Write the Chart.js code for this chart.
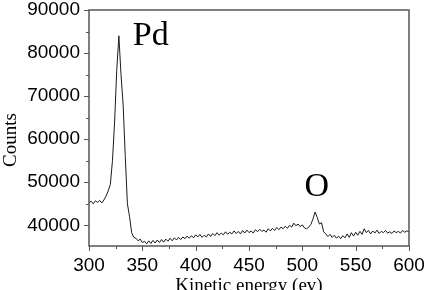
<!DOCTYPE html>
<html>
<head>
<meta charset="utf-8">
<title>AES spectrum</title>
<script src="https://cdn.jsdelivr.net/npm/chart.js@4.4.1/dist/chart.umd.min.js"></script>
<style>
  html, body { margin: 0; padding: 0; background: #fff; }
</style>
</head>
<body>
<canvas id="aes" width="424" height="290"></canvas>
<script>
// kinetic energy (eV) and counts
const energy = [
  300, 302, 304, 306, 308, 310, 312, 314, 316, 318,
  320, 322, 324, 326, 328, 330, 332, 334, 336, 338,
  340, 342, 344, 346, 348, 350, 352, 354, 356, 358,
  360, 362, 364, 366, 368, 370, 372, 374, 376, 378,
  380, 382, 384, 386, 388, 390, 392, 394, 396, 398,
  400, 402, 404, 406, 408, 410, 412, 414, 416, 418,
  420, 422, 424, 426, 428, 430, 432, 434, 436, 438,
  440, 442, 444, 446, 448, 450, 452, 454, 456, 458,
  460, 462, 464, 466, 468, 470, 472, 474, 476, 478,
  480, 482, 484, 486, 488, 490, 492, 494, 496, 498,
  500, 502, 504, 506, 508, 510, 512, 514, 516, 518,
  520, 522, 524, 526, 528, 530, 532, 534, 536, 538,
  540, 542, 544, 546, 548, 550, 552, 554, 556, 558,
  560, 562, 564, 566, 568, 570, 572, 574, 576, 578,
  580, 582, 584, 586, 588, 590, 592, 594, 596, 598,
  600
];
const counts = [
  45200, 45600, 45000, 45700, 45300, 45800, 45200, 45900, 46800, 48000,
  49500, 55000, 64000, 76000, 84000, 75000, 68000, 56000, 45000, 42000,
  38300, 37200, 37000, 36400, 36800, 36000, 36300, 35700, 36400, 35800,
  36500, 35900, 36600, 36000, 36700, 36100, 36800, 36300, 37000, 36400,
  37100, 36600, 37200, 36700, 37300, 36900, 37500, 37000, 37600, 37100,
  37800, 37300, 37900, 37200, 37700, 37300, 38000, 37400, 38100, 37600,
  38300, 37700, 38200, 37800, 38500, 37900, 38400, 38000, 38700, 38100,
  38600, 38000, 38800, 38200, 38900, 38300, 38700, 38200, 39000, 38500,
  39100, 38600, 38900, 38400, 39200, 38700, 39300, 38800, 39500, 39000,
  39600, 39200, 39800, 39300, 40000, 39600, 40500, 39900, 40300, 39700,
  40100, 39400, 39200, 39600, 40200, 41500, 43100, 41800, 40300, 40600,
  38500, 38000, 37400, 37900, 37200, 37700, 37000, 37500, 36900, 37600,
  37100, 38000, 37200, 38300, 37500, 38400, 37700, 38600, 37900, 39200,
  38300, 38800, 38000, 38700, 38200, 38900, 38100, 38600, 38300, 38800,
  38200, 38500, 38100, 38700, 38300, 38600, 38200, 38800, 38400, 38700,
  38500
];
const xTicks = [300, 350, 400, 450, 500, 550, 600];
const yTicks = [40000, 50000, 60000, 70000, 80000, 90000];
const peakNames = ["Pd", "O"];
const peakAt = [[341, 81900], [502, 46700]];

const axisColor = "#555";

// frame, major/minor tick marks, titles and peak labels
const decorations = {
  id: "decorations",
  afterDraw(chart) {
    const { ctx, chartArea: a, scales } = chart;
    const xs = scales.x, ys = scales.y;
    ctx.save();
    ctx.strokeStyle = axisColor;
    ctx.lineWidth = 1.5;
    ctx.strokeRect(a.left, a.top, a.right - a.left, a.bottom - a.top);

    ctx.lineWidth = 1;
    ctx.beginPath();
    xTicks.forEach((v, i) => {
      const px = Math.round(xs.getPixelForValue(v)) + 0.5;
      ctx.moveTo(px, a.bottom); ctx.lineTo(px, a.bottom + 5);
      if (i < xTicks.length - 1) {
        const mx = Math.round(xs.getPixelForValue((v + xTicks[i + 1]) / 2)) + 0.5;
        ctx.moveTo(mx, a.bottom); ctx.lineTo(mx, a.bottom + 3);
      }
    });
    yTicks.forEach((v, i) => {
      const py = Math.round(ys.getPixelForValue(v)) + 0.5;
      ctx.moveTo(a.left, py); ctx.lineTo(a.left - 5, py);
      if (i < yTicks.length - 1) {
        const my = Math.round(ys.getPixelForValue((v + yTicks[i + 1]) / 2)) + 0.5;
        ctx.moveTo(a.left, my); ctx.lineTo(a.left - 3, my);
      }
    });
    ctx.stroke();

    ctx.fillStyle = "#000";
    ctx.font = "19px 'Liberation Serif', 'Times New Roman', serif";
    ctx.textAlign = "center";
    ctx.textBaseline = "alphabetic";
    ctx.fillText("Kinetic energy (ev)", (a.left + a.right) / 2, 291);

    ctx.save();
    ctx.translate(16, 140);
    ctx.rotate(-Math.PI / 2);
    ctx.fillText("Counts", 0, 0);
    ctx.restore();

    ctx.font = "34px 'Liberation Serif', 'Times New Roman', serif";
    ctx.textAlign = "left";
    peakNames.forEach((name, i) => {
      const [e, c] = peakAt[i];
      ctx.fillText(name, xs.getPixelForValue(e), ys.getPixelForValue(c));
    });
    ctx.restore();
  }
};

const tickFont = { family: "'Liberation Sans', Arial, sans-serif", size: 19 };

new Chart(document.getElementById("aes"), {
  type: "line",
  data: {
    datasets: [{
      data: energy.map((e, i) => ({ x: e, y: counts[i] })),
      borderColor: "#1a1a1a",
      borderWidth: 1,
      pointRadius: 0,
      tension: 0,
      fill: false
    }]
  },
  options: {
    responsive: false,
    animation: false,
    devicePixelRatio: 1,
    layout: { padding: { top: 10, right: 15, left: 0, bottom: 0 } },
    plugins: { legend: { display: false }, tooltip: { enabled: false } },
    scales: {
      x: {
        type: "linear",
        min: 300,
        max: 600,
        afterBuildTicks: s => { s.ticks = xTicks.map(v => ({ value: v })); },
        afterFit: s => { s.height = 44; s.paddingLeft = 0; s.paddingRight = 0; },
        grid: { display: false, drawTicks: false },
        border: { display: false },
        ticks: {
          padding: 8,
          color: "#000",
          maxRotation: 0,
          autoSkip: false,
          callback: v => String(v),
          font: tickFont
        }
      },
      y: {
        min: 35200,
        max: 90000,
        afterBuildTicks: s => { s.ticks = yTicks.map(v => ({ value: v })); },
        afterFit: s => { s.width = 89; s.paddingTop = 0; s.paddingBottom = 0; },
        grid: { display: false, drawTicks: false },
        border: { display: false },
        ticks: {
          padding: 9,
          color: "#000",
          autoSkip: false,
          callback: v => String(v),
          font: tickFont
        }
      }
    }
  },
  plugins: [decorations]
});
</script>
</body>
</html>
